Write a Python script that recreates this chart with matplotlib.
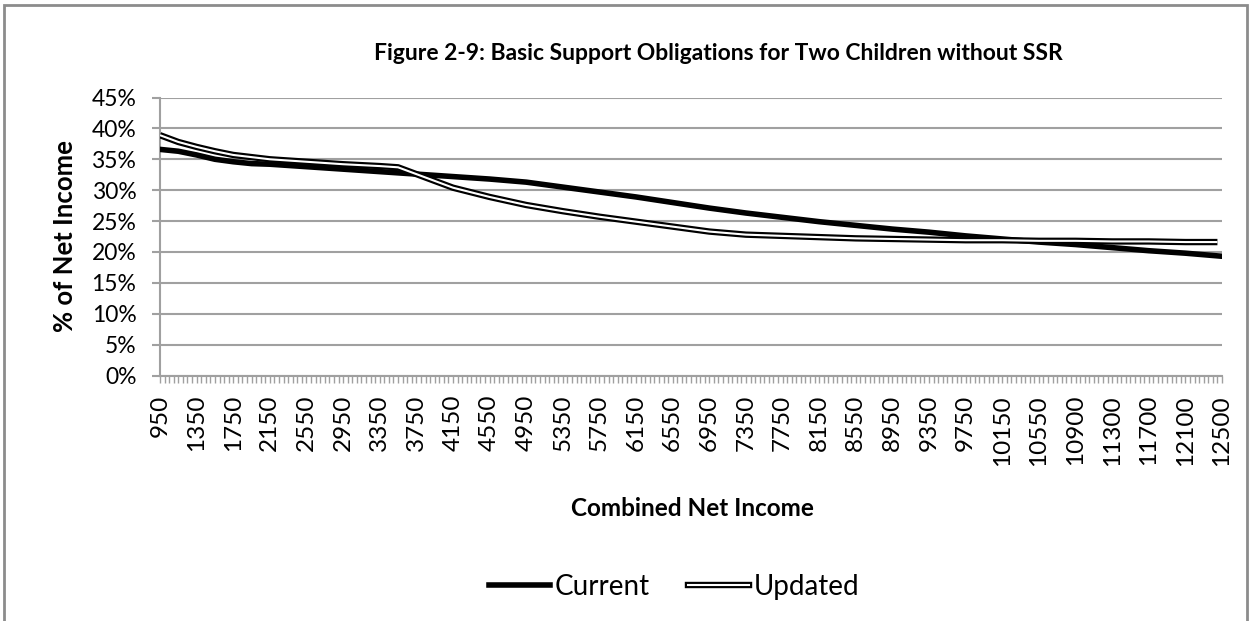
import numpy as np
import matplotlib
matplotlib.use("Agg")
import matplotlib.pyplot as plt
from matplotlib.lines import Line2D
from matplotlib.legend_handler import HandlerTuple
from matplotlib.patches import Rectangle
from matplotlib.ticker import FixedLocator, FuncFormatter

# ---- data ----
categories = (list(range(950, 10551, 50)) + list(range(10600, 10851, 50))
              + [10875, 10900] + list(range(10950, 12501, 50)))

current_income = [950, 1150, 1350, 1550, 1750, 1950, 2150, 2550, 2950, 3350, 3550,
                  3750, 4150, 4550, 4950, 5350, 5750, 6150, 6550, 6950, 7350, 7750,
                  8150, 8550, 8950, 9350, 9750, 10150, 10550, 10900, 11300, 11700,
                  12100, 12500]
current_pct = [36.6, 36.3, 35.7, 35.0, 34.6, 34.3, 34.2, 33.8, 33.4, 33.0, 32.8,
               32.6, 32.2, 31.8, 31.3, 30.5, 29.7, 28.9, 28.0, 27.1, 26.3, 25.6,
               24.9, 24.3, 23.7, 23.2, 22.6, 22.1, 21.6, 21.2, 20.7, 20.2,
               19.8, 19.3]

updated_income = [950, 1150, 1350, 1550, 1750, 2150, 2550, 2950, 3350, 3550, 3750,
                  4150, 4550, 4950, 5350, 5750, 6150, 6550, 6950, 7350, 7750, 8150,
                  8550, 8950, 9350, 9750, 10150, 10550, 10900, 11300, 11700, 12100,
                  12450]
updated_pct = [38.9, 37.8, 37.0, 36.3, 35.7, 35.0, 34.6, 34.2, 33.9, 33.7, 32.6,
               30.4, 28.9, 27.6, 26.6, 25.7, 24.9, 24.1, 23.3, 22.8, 22.6, 22.4,
               22.2, 22.1, 22.0, 21.9, 21.9, 21.8, 21.8, 21.7, 21.7, 21.6,
               21.6]

y_ticks = [0, 5, 10, 15, 20, 25, 30, 35, 40, 45]
title = "Figure 2-9: Basic Support Obligations for Two Children without SSR"
x_title = "Combined Net Income"
y_title = "% of Net Income"
series_names = ["Current", "Updated"]

# ---- figure ----
W, H = 1253, 621
fig = plt.figure(figsize=(W / 100, H / 100), dpi=100)
plt.rcParams['font.family'] = ['Lato', 'DejaVu Sans']

L, R, T, B = 160, 1222, 97.5, 375.5
ax = fig.add_axes([L / W, 1 - B / H, (R - L) / W, (B - T) / H])

grid_c = '#a0a0a0'
idx = {c: i for i, c in enumerate(categories)}
xc = [idx[v] for v in current_income]
xu = [idx[v] for v in updated_income]

ax.plot(xc, current_pct, color='black', lw=4.0, solid_capstyle='round',
        solid_joinstyle='round', zorder=3)
ax.plot(xu, updated_pct, color='black', lw=4.6, solid_capstyle='butt',
        solid_joinstyle='round', zorder=4)
ax.plot(xu, updated_pct, color='white', lw=1.5, solid_capstyle='butt',
        solid_joinstyle='round', zorder=5)

ax.set_xlim(0, len(categories) - 1)
ax.set_ylim(0, 45)
ax.set_yticks(y_ticks)
ax.yaxis.set_major_formatter(FuncFormatter(lambda v, p: f"{int(v)}%"))
ax.yaxis.grid(True, color=grid_c, lw=1.5)
ax.set_axisbelow(True)

major = list(range(0, len(categories), 8))
ax.set_xticks(major)
ax.set_xticklabels([str(categories[i]) for i in major], rotation=90, fontsize=17.5)
ax.xaxis.set_minor_locator(FixedLocator(list(range(len(categories)))))
ax.tick_params(axis='x', which='both', length=5, width=1, color=grid_c,
               direction='out', pad=9)
ax.tick_params(axis='y', length=6, width=1.5, color=grid_c, labelsize=16.5, pad=11)

for s in ['top', 'right']:
    ax.spines[s].set_visible(False)
for s in ['left', 'bottom']:
    ax.spines[s].set_color(grid_c)
    ax.spines[s].set_linewidth(1.5)

fig.text(718 / W, 1 - 53 / H, title, ha='center', va='center',
         fontsize=16.5, fontweight='bold')
fig.text(692 / W, 1 - 508 / H, x_title, ha='center', va='center',
         fontsize=17.5, fontweight='bold')
fig.text(65 / W, 1 - 236 / H, y_title, ha='center', va='center',
         fontsize=18.5, fontweight='bold', rotation=90)

h_cur = Line2D([], [], color='black', lw=4.0)
h_upd = (Line2D([], [], color='black', lw=4.6), Line2D([], [], color='white', lw=1.5))
fig.legend([h_cur, h_upd], series_names, loc='center', ncol=2,
           bbox_to_anchor=(674 / W, 1 - 587 / H), frameon=False, fontsize=20,
           handlelength=2.2, handletextpad=0.15, columnspacing=1.4,
           handler_map={tuple: HandlerTuple(ndivide=1, pad=0)})

fig.add_artist(Rectangle((4 / W, -0.1), (1247 - 4) / W, (1 - 5 / H) + 0.1,
                         transform=fig.transFigure, fill=False,
                         edgecolor='#8c8c8c', lw=2))

fig.savefig("out.png", dpi=100)
